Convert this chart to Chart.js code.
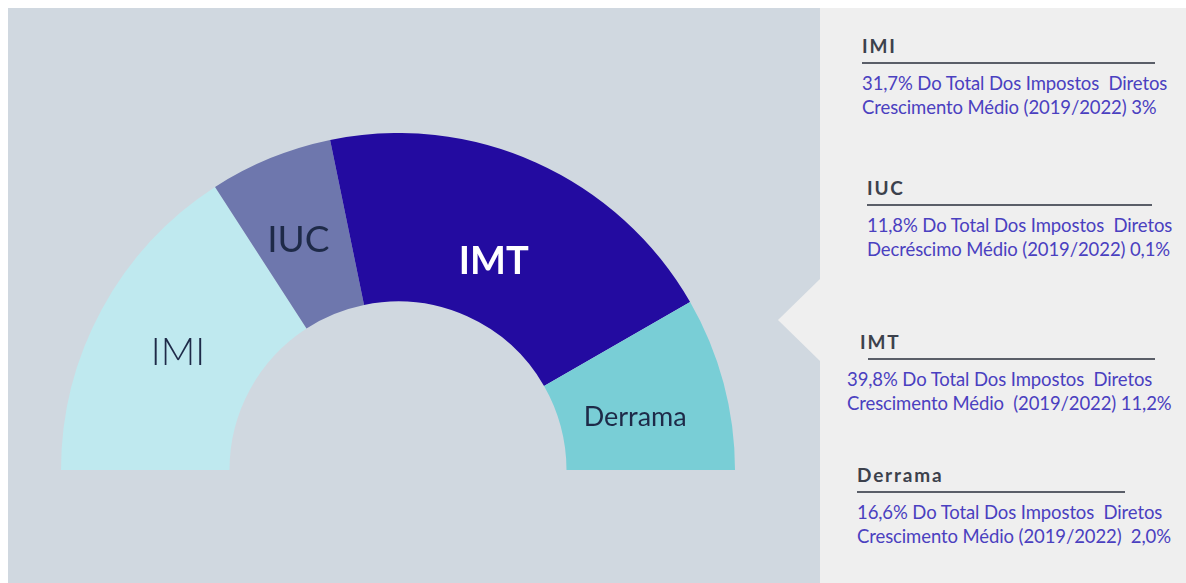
<!DOCTYPE html>
<html>
<head>
<meta charset="utf-8">
<script src="https://cdn.jsdelivr.net/npm/chart.js@4"></script>
<style>
  html, body { margin: 0; padding: 0; background: #fff; }
  body { width: 1186px; height: 583px; position: relative; overflow: hidden; font-family: Lato, 'Open Sans', sans-serif; }
  #left { position: absolute; left: 8px; top: 8px; width: 812px; height: 575px; background: #d0d8e0; }
  #right { position: absolute; left: 820px; top: 8px; width: 366px; height: 575px; background: #efefef; }
  #pointer { position: absolute; left: 778px; top: 278px; width: 0; height: 0;
    border-top: 42px solid transparent; border-bottom: 42px solid transparent; border-right: 43px solid #efefef; }
  #wrap { position: absolute; left: 61px; top: 133px; width: 674px; height: 337px; }
  .blk { position: absolute; }
  .blk .t { font-size: 19px; font-weight: 700; color: #3c414c; letter-spacing: 1.8px; line-height: 20px; }
  .blk .u { height: 2px; background: #5a5e68; margin-top: 6px; margin-bottom: 7px; }
  .blk .d { font-size: 18.5px; color: #4a40c0; line-height: 24px; white-space: pre; letter-spacing: -0.1px; }
</style>
</head>
<body>
<div id="left"></div>
<div id="right"></div>
<div id="pointer"></div>
<div id="wrap"><canvas id="chart"></canvas></div>
<div id="legend"></div>
<script>
const taxes = ['IMI', 'IUC', 'IMT', 'Derrama'];
const shares = [31.7, 11.8, 39.8, 16.6];
const trends = [
  'Crescimento Médio (2019/2022) 3%',
  'Decréscimo Médio (2019/2022) 0,1%',
  'Crescimento Médio  (2019/2022) 11,2%',
  'Crescimento Médio (2019/2022)  2,0%'
];

const colors = ['#bfe9ef', '#6e77ad', '#230ba0', '#79ced6'];
const labelStyle = [
  { font: '300 38px Lato', color: '#1e2a48', dx: 2, dy: 4 },
  { font: '400 37px Lato', color: '#1e2a48', dx: -4, dy: 4 },
  { font: '700 38px Lato', color: '#ffffff', dx: -8, dy: 22 },
  { font: '400 27px Lato', color: '#1e2a48', dx: -7, dy: 13 }
];

// legend blocks on the right panel
const blockPos = [
  { left: 862, top: 36, line: 293, textLeft: 0 },
  { left: 867, top: 178, line: 285, textLeft: 0 },
  { left: 860, top: 332, line: 287, lineLeft: 8, textLeft: -13 },
  { left: 857, top: 465, line: 268, textLeft: 0 }
];
const legend = document.getElementById('legend');
taxes.forEach((name, i) => {
  const p = blockPos[i];
  const b = document.createElement('div');
  b.className = 'blk';
  b.style.left = p.left + 'px';
  b.style.top = p.top + 'px';
  const share = shares[i].toFixed(1).replace('.', ',');
  b.innerHTML =
    '<div class="t">' + name + '</div>' +
    '<div class="u" style="width:' + p.line + 'px;margin-left:' + (p.lineLeft || 0) + 'px"></div>' +
    '<div class="d" style="margin-left:' + p.textLeft + 'px">' + share + '% Do Total Dos Impostos  Diretos\n' + trends[i] + '</div>';
  legend.appendChild(b);
});

const sliceLabels = {
  id: 'sliceLabels',
  afterDatasetsDraw(chart) {
    const { ctx } = chart;
    chart.getDatasetMeta(0).data.forEach((arc, i) => {
      const pos = arc.tooltipPosition();
      const s = labelStyle[i];
      ctx.save();
      ctx.font = s.font;
      ctx.fillStyle = s.color;
      ctx.textAlign = 'center';
      ctx.textBaseline = 'middle';
      ctx.fillText(taxes[i], pos.x + s.dx, pos.y + s.dy);
      ctx.restore();
    });
  }
};

new Chart(document.getElementById('chart'), {
  type: 'doughnut',
  data: {
    labels: taxes,
    datasets: [{
      data: shares,
      backgroundColor: colors,
      borderWidth: 0
    }]
  },
  options: {
    responsive: true,
    maintainAspectRatio: false,
    animation: false,
    rotation: -90,
    circumference: 180,
    cutout: '50%',
    layout: { padding: 0 },
    plugins: {
      legend: { display: false },
      tooltip: { enabled: false }
    }
  },
  plugins: [sliceLabels]
});
</script>
</body>
</html>
